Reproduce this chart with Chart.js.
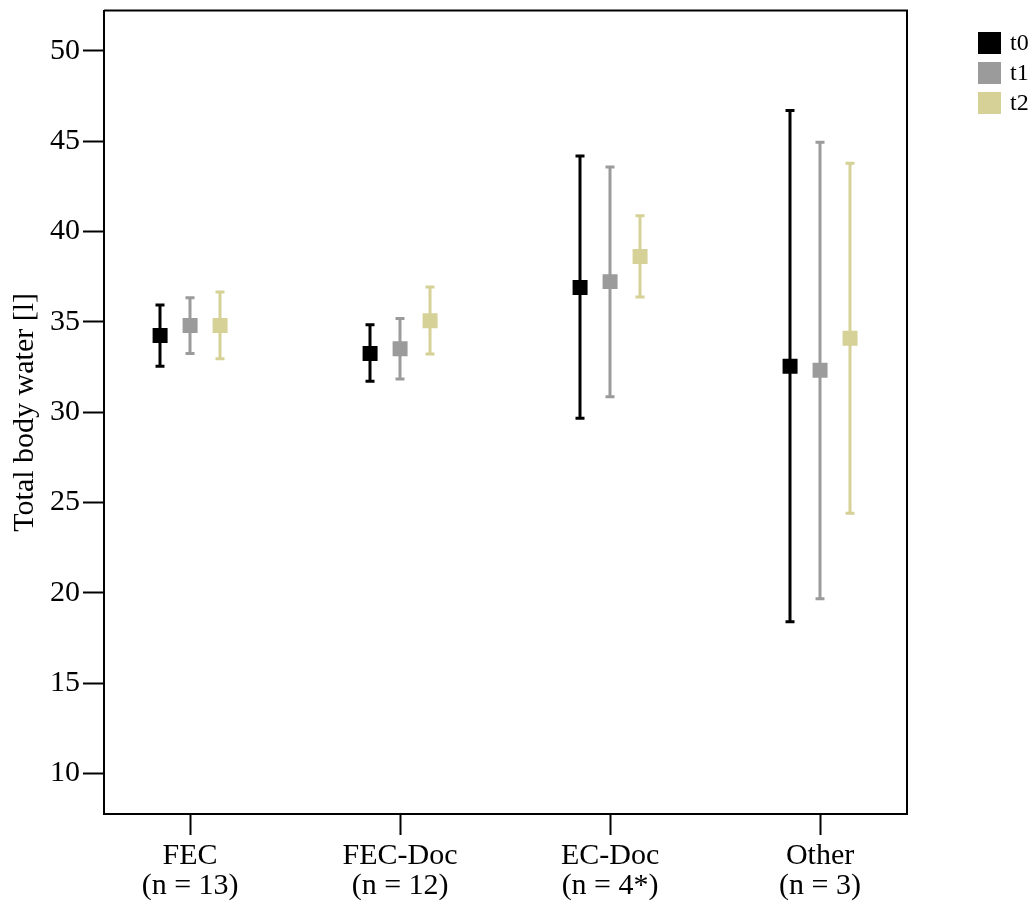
<!DOCTYPE html>
<html>
<head>
<meta charset="utf-8">
<script src="https://cdn.jsdelivr.net/npm/chart.js@4/dist/chart.umd.min.js"></script>
<style>
  body { margin: 0; background: #fff; }
  canvas { display: block; }
</style>
</head>
<body>
<canvas id="tbw" width="1035" height="905"></canvas>
<script>
// groups and their sizes
var groups = ['FEC', 'FEC-Doc', 'EC-Doc', 'Other'];
var groupN = ['(n = 13)', '(n = 12)', '(n = 4*)', '(n = 3)'];

// means and 95% CI per time point, litres
var t0Mean = [34.24, 33.24, 36.90, 32.54];
var t0Low  = [32.53, 31.70, 29.66, 18.39];
var t0High = [35.93, 34.83, 44.17, 46.69];

var t1Mean = [34.79, 33.50, 37.22, 32.32];
var t1Low  = [33.24, 31.83, 30.85, 19.67];
var t1High = [36.33, 35.18, 43.56, 44.94];

var t2Mean = [34.79, 35.06, 38.61, 34.09];
var t2Low  = [32.95, 33.21, 36.37, 24.40];
var t2High = [36.65, 36.92, 40.86, 43.77];

var yTicks = [10, 15, 20, 25, 30, 35, 40, 45, 50];

var seriesNames = ['t0', 't1', 't2'];
var seriesColors = ['#000000', '#9b9b9b', '#d6d197'];
var seriesDodge = [-1 / 7, 0, 1 / 7];

var serif = '"Liberation Serif", "Times New Roman", serif';

function buildDataset(idx, mean, low, high) {
	var pts = [];
	for (var i = 0; i < mean.length; i++) {
		pts.push({x: i + 1 + seriesDodge[idx], y: mean[i], low: low[i], high: high[i]});
	};
	return {
		label: seriesNames[idx],
		data: pts,
		backgroundColor: seriesColors[idx],
		borderColor: seriesColors[idx],
		borderWidth: 0,
		pointStyle: 'rect',
		pointRadius: 10.6,
		pointHoverRadius: 10.6,
		showLine: false
	};
};

// whiskers go under the square markers
var errorBars = {
	id: 'errorBars',
	beforeDatasetsDraw: function(chart) {
		var ctx = chart.ctx;
		var yScale = chart.scales.y;
		ctx.save();
		chart.data.datasets.forEach(function(ds, d) {
			var meta = chart.getDatasetMeta(d);
			ctx.strokeStyle = ds.borderColor;
			ctx.lineWidth = 3;
			ds.data.forEach(function(p, i) {
				var x = Math.round(meta.data[i].x);
				var yl = yScale.getPixelForValue(p.low);
				var yh = yScale.getPixelForValue(p.high);
				ctx.beginPath();
				ctx.moveTo(x, yl);
				ctx.lineTo(x, yh);
				ctx.moveTo(x - 4.5, yl);
				ctx.lineTo(x + 4.5, yl);
				ctx.moveTo(x - 4.5, yh);
				ctx.lineTo(x + 4.5, yh);
				ctx.stroke();
			});
		});
		ctx.restore();
	}
};

// closes the frame on top and right, and draws the key outside it
var frameAndKey = {
	id: 'frameAndKey',
	afterDraw: function(chart) {
		var ctx = chart.ctx;
		var a = chart.chartArea;
		ctx.save();
		ctx.strokeStyle = '#000';
		ctx.lineWidth = 2;
		ctx.beginPath();
		ctx.moveTo(a.left, a.top);
		ctx.lineTo(a.right, a.top);
		ctx.lineTo(a.right, a.bottom);
		ctx.stroke();

		ctx.font = '24px ' + serif;
		ctx.textBaseline = 'middle';
		ctx.textAlign = 'left';
		for (var i = 0; i < seriesNames.length; i++) {
			var cy = 43 + i * 30;
			ctx.fillStyle = seriesColors[i];
			ctx.fillRect(a.right + 71, cy - 11, 23, 22);
			ctx.fillStyle = '#000';
			ctx.fillText(seriesNames[i], a.right + 103, cy + 1);
		};
		ctx.restore();
	}
};

var ctx = document.getElementById('tbw').getContext('2d');
var tbwChart = new Chart(ctx, {
	type: 'scatter',
	data: {
		datasets: [
			buildDataset(0, t0Mean, t0Low, t0High),
			buildDataset(1, t1Mean, t1Low, t1High),
			buildDataset(2, t2Mean, t2Low, t2High)
		]
	},
	options: {
		responsive: false,
		animation: false,
		events: [],
		layout: { padding: { top: 8, right: 128, left: 0, bottom: 0 } },
		plugins: {
			legend: { display: false },
			tooltip: { enabled: false }
		},
		scales: {
			x: {
				type: 'linear',
				min: 0.59,
				max: 4.414,
				afterBuildTicks: function(scale) {
					scale.ticks = groups.map(function(g, i) { return {value: i + 1}; });
				},
				afterFit: function(scale) {
					scale.height = 91;
					scale.paddingLeft = 0;
					scale.paddingRight = 0;
				},
				grid: {
					drawOnChartArea: false,
					drawTicks: true,
					tickLength: 21,
					tickWidth: 2,
					tickColor: '#000'
				},
				border: { display: true, color: '#000', width: 2 },
				ticks: {
					color: '#000',
					padding: 6,
					maxRotation: 0,
					autoSkip: false,
					font: { family: serif, size: 30, lineHeight: 1.0 },
					callback: function(v) {
						var i = Math.round(v) - 1;
						return [groups[i], groupN[i]];
					}
				}
			},
			y: {
				type: 'linear',
				min: 7.755,
				max: 52.22,
				afterBuildTicks: function(scale) {
					scale.ticks = yTicks.map(function(v) { return {value: v}; });
				},
				afterFit: function(scale) {
					scale.width = 104;
					scale.paddingTop = 0;
					scale.paddingBottom = 0;
				},
				grid: {
					drawOnChartArea: false,
					drawTicks: true,
					tickLength: 21,
					tickWidth: 2,
					tickColor: '#000'
				},
				border: { display: true, color: '#000', width: 2 },
				ticks: {
					color: '#000',
					padding: 3,
					font: { family: serif, size: 30 }
				},
				title: {
					display: true,
					text: 'Total body water [l]',
					color: '#000',
					font: { family: serif, size: 30, lineHeight: 1.2 },
					padding: { top: 7, bottom: 0 }
				}
			}
		}
	},
	plugins: [errorBars, frameAndKey]
});
</script>
</body>
</html>
